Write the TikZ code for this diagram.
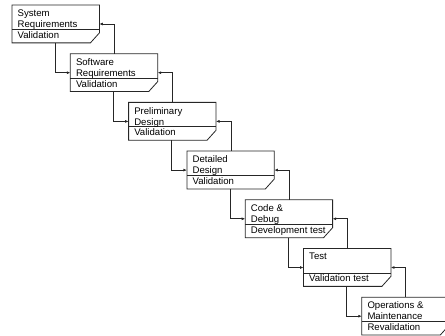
\documentclass[tikz,border=0pt]{standalone}
\usepackage{fontspec}
\setmainfont{Liberation Sans}
\usetikzlibrary{arrows.meta,calc}
\begin{document}
\begin{tikzpicture}[x=1pt,y=-1pt,
  boxshape/.style={rectangle, minimum width=87pt, minimum height=37.5pt, inner sep=0pt, anchor=north west, draw=none},
  outline/.style={draw=black!85, line width=0.8pt, line join=miter},
  conn/.style={draw=black!85, line width=0.8pt, -{Latex[length=3.5pt,width=3pt]}},
  toptext/.style={anchor=north west, inner sep=0pt, align=left, font=\fontsize{9.6}{11}\selectfont},
  bottext/.style={anchor=base west, inner sep=0pt, font=\fontsize{9.6}{11}\selectfont}]
\useasboundingbox (0,0) rectangle (445,336);
\foreach \i/\a/\b in {1/{System\\Requirements}/Validation,
                      2/{Software\\Requirements}/Validation,
                      3/{Preliminary\\Design}/Validation,
                      4/{Detailed\\Design}/Validation,
                      5/{Code \&\\Debug}/Development test,
                      6/{Test}/Validation test,
                      7/{Operations \&\\Maintenance}/Revalidation}{
  \pgfmathsetmacro\L{12+58.3*(\i-1)}
  \pgfmathsetmacro\T{5+48.7*(\i-1)}
  \node[boxshape] (b\i) at (\L,\T) {};
  \draw[outline] (b\i.north west) -- (b\i.north east) -- ([yshift=10pt]b\i.south east)
     -- ([xshift=-9pt]b\i.south east) -- (b\i.south west) -- cycle;
  \draw[outline] ([yshift=-24.5pt]b\i.north west) -- ([yshift=-24.5pt]b\i.north east);
  \node[toptext] (t\i) at ([xshift=5.5pt,yshift=-4.5pt]b\i.north west) {\a};
  \node[bottext] (v\i) at ([xshift=5.5pt,yshift=-33.5pt]b\i.north west) {\b};
}
\foreach \i in {1,...,6}{
  \pgfmathtruncatemacro\j{\i+1}
  \draw[conn] ([xshift=43pt]b\i.south west) |- ([yshift=-19pt]b\j.north west);
  \draw[conn] ([xshift=44pt]b\j.north west) |- ([yshift=-19pt]b\i.north east);
}
\end{tikzpicture}
\end{document}
